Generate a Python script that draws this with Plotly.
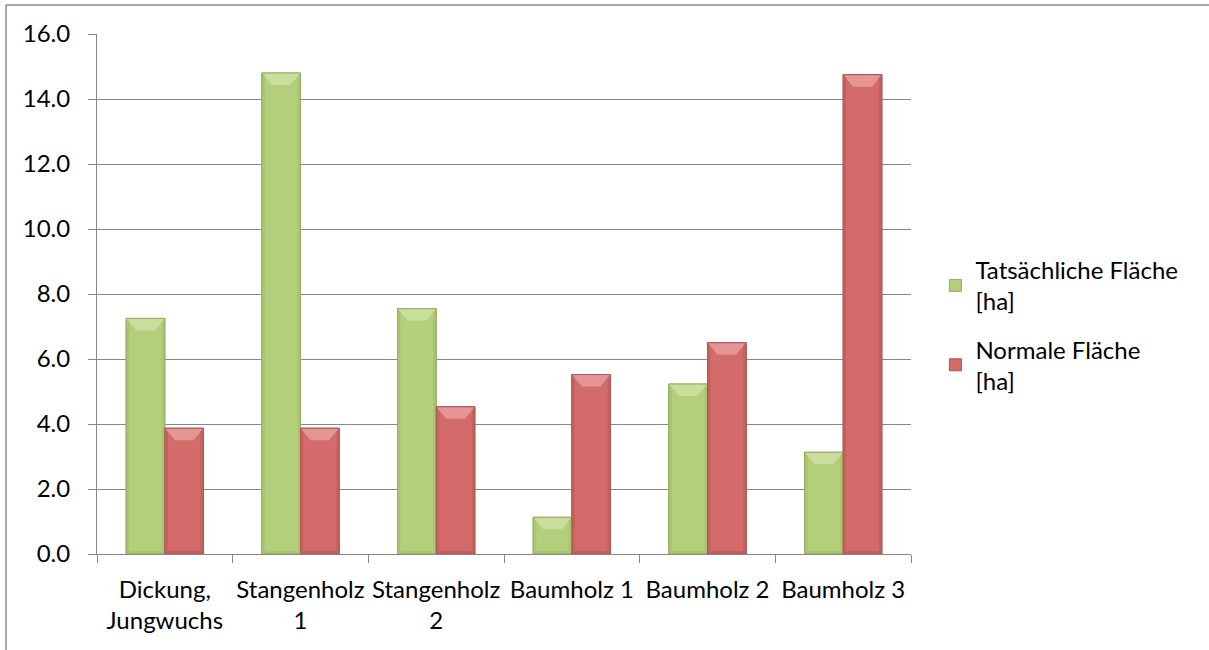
import plotly.graph_objects as go

# Flächenverteilung nach Altersklassen
categories = ["Dickung,<br>Jungwuchs", "Stangenholz<br>1", "Stangenholz<br>2",
              "Baumholz 1", "Baumholz 2", "Baumholz 3"]
tatsaechlich = [7.25, 14.8, 7.55, 1.13, 5.23, 3.13]
normal = [3.87, 3.87, 4.53, 5.52, 6.5, 14.75]
y_ticks = [0, 2, 4, 6, 8, 10, 12, 14, 16]

# canvas and plot-area geometry (pixels)
W, H = 1209, 650
ML, MR, MT, MB = 97, 298, 34, 96
PW, PH = W - ML - MR, H - MT - MB
Y_MAX = 16.0
N = len(categories)

BAR_W = 0.285           # bar width in category units
BEV_TOP = 12            # top bevel depth in pixels
BEV_SIDE = 10           # bevel inset in pixels
BEV_EDGE = 3            # thin side/bottom facets in pixels
px_per_cat = PW / N
px_per_unit = PH / Y_MAX

FONT = "Lato, Carlito, Calibri, sans-serif"
FS = 24

series = [
    dict(name="Tatsächliche Fläche<br>[ha]", group="ist", values=tatsaechlich, offset=-BAR_W,
         face="#B3CF7B", top="#C9DE9C", side="#A9C56F", bottom="#A9C46F", edge="#93AD61"),
    dict(name="Normale Fläche<br>[ha]", group="soll", values=normal, offset=0.0,
         face="#D26B6A", top="#E49594", side="#C66160", bottom="#C45E5D", edge="#A85554"),
]

fig = go.Figure()

for s in series:
    fig.add_trace(go.Bar(
        x=list(range(N)), y=s["values"], name=s["name"], legendgroup=s["group"],
        offset=s["offset"], width=BAR_W,
        marker=dict(color=s["face"], line=dict(color=s["edge"], width=1)),
    ))

# bevel facets drawn over each bar, derived from the bar values
for s in series:
    for i, v in enumerate(s["values"]):
        L = i + s["offset"]
        R = L + BAR_W
        ty = min(BEV_TOP / px_per_unit, v / 2)
        tx = min(BEV_SIDE / px_per_cat, BAR_W / 2)
        ex = BEV_EDGE / px_per_cat
        ey = min(BEV_EDGE / px_per_unit, v / 4)
        facets = [
            ([L, R, R - tx, L + tx, L], [v, v, v - ty, v - ty, v], s["top"]),
            ([L, R, R - ex, L + ex, L], [0, 0, ey, ey, 0], s["bottom"]),
            ([L, L + ex, L + ex, L, L], [0, ey, v - ty * ex / tx, v, 0], s["side"]),
            ([R, R - ex, R - ex, R, R], [0, ey, v - ty * ex / tx, v, 0], s["side"]),
        ]
        for xs, ys, col in facets:
            fig.add_trace(go.Scatter(
                x=xs, y=ys, fill="toself", fillcolor=col, mode="lines",
                line=dict(width=0), hoverinfo="skip", showlegend=False,
                legendgroup=s["group"],
            ))
        # outline on top of the facets
        fig.add_trace(go.Scatter(
            x=[L, R, R, L, L], y=[0, 0, v, v, 0], mode="lines",
            line=dict(color=s["edge"], width=1), hoverinfo="skip", showlegend=False,
            legendgroup=s["group"],
        ))

grid_col = "#878787"

fig.update_layout(
    width=W, height=H,
    margin=dict(l=ML, r=MR, t=MT, b=MB, pad=0),
    paper_bgcolor="white", plot_bgcolor="white",
    font=dict(family=FONT, size=FS, color="#000000"),
    barmode="overlay",
    showlegend=True,
    legend=dict(
        x=1.03, y=0.44, xanchor="left", yanchor="middle",
        font=dict(family=FONT, size=FS, color="#000000"),
        tracegroupgap=14, itemwidth=30,
        bgcolor="rgba(0,0,0,0)",
    ),
    xaxis=dict(
        range=[-0.5, N - 0.5], tickmode="array",
        tickvals=list(range(N)), ticktext=categories,
        showgrid=False, zeroline=False,
        showline=True, linecolor=grid_col, linewidth=1,
        ticks="", ticklabelstandoff=14,
        minor=dict(tick0=-0.5, dtick=1, ticks="outside", ticklen=8,
                   tickcolor=grid_col, showgrid=False),
        tickfont=dict(family=FONT, size=FS, color="#000000"),
    ),
    yaxis=dict(
        range=[0, Y_MAX], tickmode="array", tickvals=y_ticks,
        tickformat=".1f",
        showgrid=True, gridcolor=grid_col, gridwidth=1,
        zeroline=False, showline=True, linecolor=grid_col, linewidth=1,
        ticks="outside", ticklen=8, tickcolor=grid_col,
        ticklabelstandoff=13,
        tickfont=dict(family=FONT, size=FS, color="#000000"),
    ),
)

# chart frame along the top and left edges
def px_x(p):
    return (p - ML) / PW

def px_y(p):
    return (H - MB - p) / PH

fig.add_shape(type="line", xref="paper", yref="paper",
              x0=px_x(6), y0=px_y(H + 5), x1=px_x(6), y1=px_y(5),
              line=dict(color="#8C8C8C", width=1.5))
fig.add_shape(type="line", xref="paper", yref="paper",
              x0=px_x(6), y0=px_y(5), x1=px_x(W + 5), y1=px_y(5),
              line=dict(color="#8C8C8C", width=1.5))

fig.write_html("out.html")
